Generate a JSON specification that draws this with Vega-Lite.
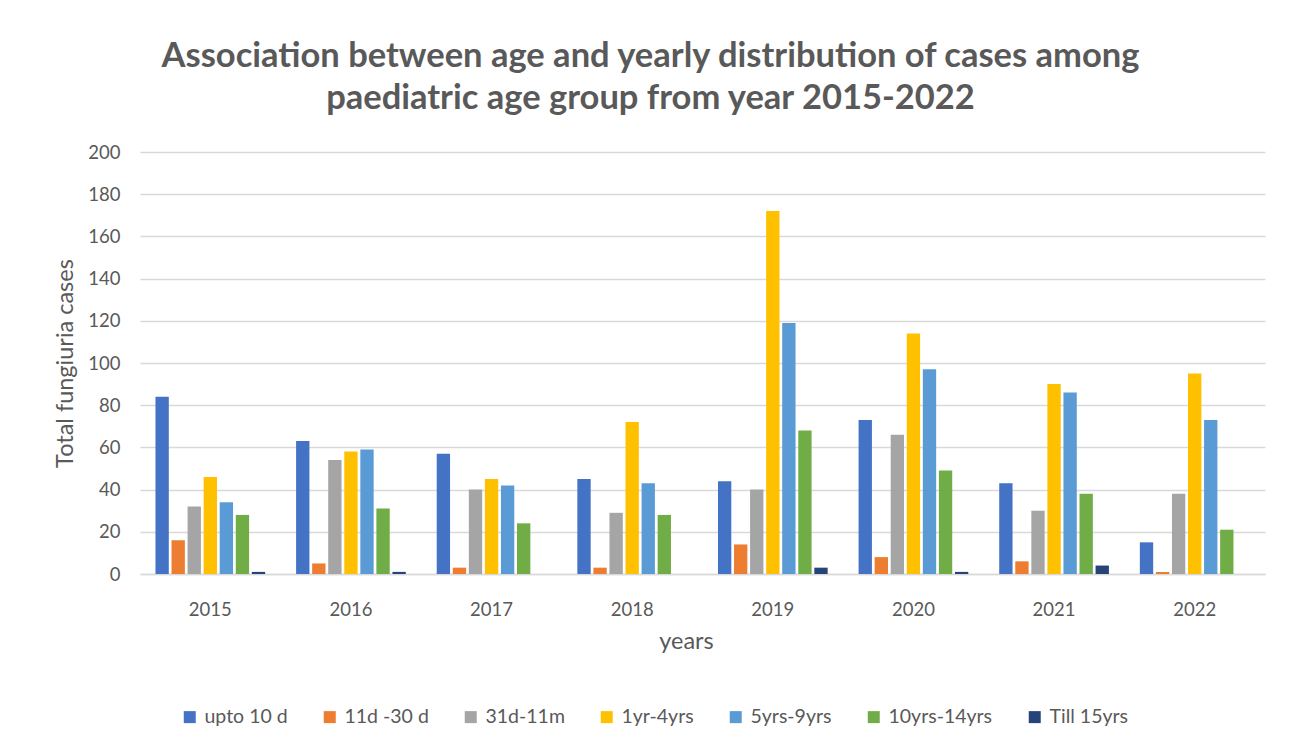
{
  "$schema": "https://vega.github.io/schema/vega-lite/v6.json",
  "autosize": "none",
  "width": 1125,
  "height": 422,
  "padding": {"left": 140, "top": 152, "right": 26, "bottom": 175},
  "background": "white",
  "title": {
    "text": ["Association between age and yearly distribution of cases among", "paediatric age group from year 2015-2022"],
    "font": "Lato",
    "fontSize": 34.5,
    "fontWeight": "bold",
    "color": "#595959",
    "lineHeight": 42,
    "anchor": "middle",
    "dx": -52,
    "offset": 27
  },
  "data": {
    "values": [
      {"year": "2015", "group": "upto 10 d", "cases": 84},
      {"year": "2015", "group": "11d -30 d", "cases": 16},
      {"year": "2015", "group": "31d-11m", "cases": 32},
      {"year": "2015", "group": "1yr-4yrs", "cases": 46},
      {"year": "2015", "group": "5yrs-9yrs", "cases": 34},
      {"year": "2015", "group": "10yrs-14yrs", "cases": 28},
      {"year": "2015", "group": "Till 15yrs", "cases": 1},
      {"year": "2016", "group": "upto 10 d", "cases": 63},
      {"year": "2016", "group": "11d -30 d", "cases": 5},
      {"year": "2016", "group": "31d-11m", "cases": 54},
      {"year": "2016", "group": "1yr-4yrs", "cases": 58},
      {"year": "2016", "group": "5yrs-9yrs", "cases": 59},
      {"year": "2016", "group": "10yrs-14yrs", "cases": 31},
      {"year": "2016", "group": "Till 15yrs", "cases": 1},
      {"year": "2017", "group": "upto 10 d", "cases": 57},
      {"year": "2017", "group": "11d -30 d", "cases": 3},
      {"year": "2017", "group": "31d-11m", "cases": 40},
      {"year": "2017", "group": "1yr-4yrs", "cases": 45},
      {"year": "2017", "group": "5yrs-9yrs", "cases": 42},
      {"year": "2017", "group": "10yrs-14yrs", "cases": 24},
      {"year": "2017", "group": "Till 15yrs", "cases": 0},
      {"year": "2018", "group": "upto 10 d", "cases": 45},
      {"year": "2018", "group": "11d -30 d", "cases": 3},
      {"year": "2018", "group": "31d-11m", "cases": 29},
      {"year": "2018", "group": "1yr-4yrs", "cases": 72},
      {"year": "2018", "group": "5yrs-9yrs", "cases": 43},
      {"year": "2018", "group": "10yrs-14yrs", "cases": 28},
      {"year": "2018", "group": "Till 15yrs", "cases": 0},
      {"year": "2019", "group": "upto 10 d", "cases": 44},
      {"year": "2019", "group": "11d -30 d", "cases": 14},
      {"year": "2019", "group": "31d-11m", "cases": 40},
      {"year": "2019", "group": "1yr-4yrs", "cases": 172},
      {"year": "2019", "group": "5yrs-9yrs", "cases": 119},
      {"year": "2019", "group": "10yrs-14yrs", "cases": 68},
      {"year": "2019", "group": "Till 15yrs", "cases": 3},
      {"year": "2020", "group": "upto 10 d", "cases": 73},
      {"year": "2020", "group": "11d -30 d", "cases": 8},
      {"year": "2020", "group": "31d-11m", "cases": 66},
      {"year": "2020", "group": "1yr-4yrs", "cases": 114},
      {"year": "2020", "group": "5yrs-9yrs", "cases": 97},
      {"year": "2020", "group": "10yrs-14yrs", "cases": 49},
      {"year": "2020", "group": "Till 15yrs", "cases": 1},
      {"year": "2021", "group": "upto 10 d", "cases": 43},
      {"year": "2021", "group": "11d -30 d", "cases": 6},
      {"year": "2021", "group": "31d-11m", "cases": 30},
      {"year": "2021", "group": "1yr-4yrs", "cases": 90},
      {"year": "2021", "group": "5yrs-9yrs", "cases": 86},
      {"year": "2021", "group": "10yrs-14yrs", "cases": 38},
      {"year": "2021", "group": "Till 15yrs", "cases": 4},
      {"year": "2022", "group": "upto 10 d", "cases": 15},
      {"year": "2022", "group": "11d -30 d", "cases": 1},
      {"year": "2022", "group": "31d-11m", "cases": 38},
      {"year": "2022", "group": "1yr-4yrs", "cases": 95},
      {"year": "2022", "group": "5yrs-9yrs", "cases": 73},
      {"year": "2022", "group": "10yrs-14yrs", "cases": 21},
      {"year": "2022", "group": "Till 15yrs", "cases": 0}
    ]
  },
  "mark": {"type": "bar"},
  "encoding": {
    "x": {
      "field": "year",
      "type": "nominal",
      "scale": {"paddingInner": 0.22, "paddingOuter": 0.11},
      "axis": {
        "title": "years",
        "labelAngle": 0,
        "labelFont": "Lato",
        "labelFontSize": 18.5,
        "labelColor": "#595959",
        "labelPadding": 26,
        "titleFont": "Lato",
        "titleFontSize": 23.5,
        "titleFontWeight": "normal",
        "titleColor": "#595959",
        "titlePadding": 11,
        "titleX": 546,
        "titleAlign": "center",
        "ticks": false,
        "domainColor": "#d9d9d9",
        "domainWidth": 1.5,
        "grid": false
      }
    },
    "xOffset": {
      "field": "group",
      "type": "nominal",
      "sort": ["upto 10 d", "11d -30 d", "31d-11m", "1yr-4yrs", "5yrs-9yrs", "10yrs-14yrs", "Till 15yrs"],
      "scale": {"paddingInner": 0.17, "paddingOuter": 0}
    },
    "y": {
      "field": "cases",
      "type": "quantitative",
      "scale": {"domain": [0, 200], "nice": false},
      "axis": {
        "title": "Total fungiuria cases",
        "values": [0, 20, 40, 60, 80, 100, 120, 140, 160, 180, 200],
        "labelFont": "Lato",
        "labelFontSize": 18.5,
        "labelColor": "#595959",
        "labelPadding": 20,
        "titleFont": "Lato",
        "titleFontSize": 23.5,
        "titleFontWeight": "normal",
        "titleColor": "#595959",
        "titlePadding": 10,
        "ticks": false,
        "domain": false,
        "gridColor": "#d9d9d9",
        "gridWidth": 1.5
      }
    },
    "color": {
      "field": "group",
      "type": "nominal",
      "sort": ["upto 10 d", "11d -30 d", "31d-11m", "1yr-4yrs", "5yrs-9yrs", "10yrs-14yrs", "Till 15yrs"],
      "scale": {
        "domain": ["upto 10 d", "11d -30 d", "31d-11m", "1yr-4yrs", "5yrs-9yrs", "10yrs-14yrs", "Till 15yrs"],
        "range": ["#4472C4", "#ED7D31", "#A5A5A5", "#FFC000", "#5B9BD5", "#70AD47", "#264478"]
      },
      "legend": {
        "title": null,
        "orient": "none",
        "direction": "horizontal",
        "legendX": 40,
        "legendY": 555,
        "symbolType": "square",
        "symbolSize": 144,
        "symbolStrokeWidth": 0,
        "labelFont": "Lato",
        "labelFontSize": 19.5,
        "labelColor": "#595959",
        "labelOffset": 5,
        "columnPadding": 32
      }
    }
  },
  "config": {
    "view": {"stroke": null}
  }
}
